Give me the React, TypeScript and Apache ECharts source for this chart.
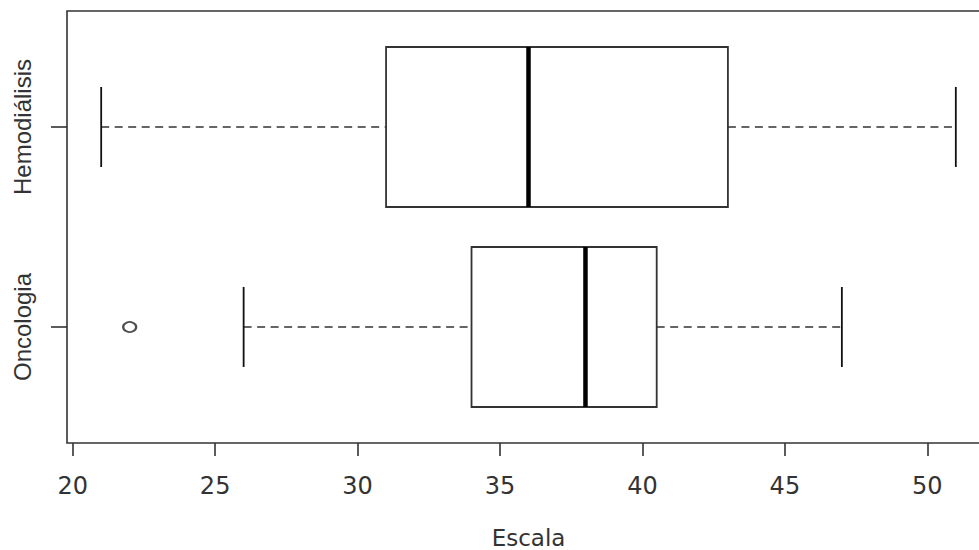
import React, { useEffect, useRef } from "react";
import * as echarts from "echarts";

// ---- data ----
const categories = ["Oncologia", "Hemodiálisis"];
const positions = [1, 2];
const whiskerLow = [26, 21];
const quartile1 = [34, 31];
const medians = [38, 36];
const quartile3 = [40.5, 43];
const whiskerHigh = [47, 51];
const outlierValues = [22];
const outlierPositions = [1];
const xTicks = [20, 25, 30, 35, 40, 45, 50];
const xAxisTitle = "Escala";

// ---- styles ----
const INK = "#333";
const LINE = "#333";
const BOX_HALF = 0.4;
const STAPLE_HALF = 0.2;

export default function App() {
  const ref = useRef<HTMLDivElement>(null);

  useEffect(() => {
    document.body.style.margin = "0";
    document.body.style.overflow = "hidden";
    if (!ref.current) return;
    const chart = echarts.init(ref.current, null, { renderer: "svg" });

    const boxData = positions.map((p, i) => [
      p,
      whiskerLow[i],
      quartile1[i],
      medians[i],
      quartile3[i],
      whiskerHigh[i],
    ]);
    const outlierData = outlierValues.map((v, i) => [v, outlierPositions[i]]);

    const renderItem = (params: any, api: any) => {
      const pos = api.value(0);
      const lo = api.value(1);
      const q1 = api.value(2);
      const med = api.value(3);
      const q3 = api.value(4);
      const hi = api.value(5);
      const c = (x: number, y: number) => api.coord([x, y]);
      const boxTL = c(q1, pos + BOX_HALF);
      const boxBR = c(q3, pos - BOX_HALF);
      const mid = c(q1, pos)[1];
      const dashStyle = { stroke: LINE, lineWidth: 1.6, lineDash: [8, 5.5], fill: null };
      const pLo = c(lo, pos);
      const pHi = c(hi, pos);
      const sTop = c(lo, pos + STAPLE_HALF)[1];
      const sBot = c(lo, pos - STAPLE_HALF)[1];
      const medX = c(med, pos)[0];
      return {
        type: "group",
        children: [
          {
            type: "line",
            shape: { x1: pLo[0], y1: mid, x2: boxTL[0], y2: mid },
            style: dashStyle,
          },
          {
            type: "line",
            shape: { x1: boxBR[0], y1: mid, x2: pHi[0], y2: mid },
            style: dashStyle,
          },
          {
            type: "line",
            shape: { x1: pLo[0], y1: sTop, x2: pLo[0], y2: sBot },
            style: { stroke: "#111", lineWidth: 1.8 },
          },
          {
            type: "line",
            shape: { x1: pHi[0], y1: sTop, x2: pHi[0], y2: sBot },
            style: { stroke: "#111", lineWidth: 1.8 },
          },
          {
            type: "rect",
            shape: {
              x: boxTL[0],
              y: boxTL[1],
              width: boxBR[0] - boxTL[0],
              height: boxBR[1] - boxTL[1],
            },
            style: { stroke: LINE, lineWidth: 1.8, fill: "#fff" },
          },
          {
            type: "line",
            shape: { x1: medX, y1: boxTL[1], x2: medX, y2: boxBR[1] },
            style: { stroke: "#000", lineWidth: 4.5 },
          },
        ],
      };
    };

    chart.setOption({
      animation: false,
      backgroundColor: "#fff",
      grid: {
        left: 67,
        top: 11,
        width: 923,
        height: 432,
        outerBoundsMode: "none",
        containLabel: false,
        show: true,
        borderColor: LINE,
        borderWidth: 1.6,
        backgroundColor: "transparent",
      },
      xAxis: {
        type: "value",
        min: 19.8,
        max: 52.2,
        splitLine: { show: false },
        axisLine: { show: false },
        axisTick: {
          show: true,
          customValues: xTicks,
          length: 13,
          lineStyle: { color: LINE, width: 1.6 },
        },
        axisLabel: {
          customValues: xTicks,
          margin: 31,
          fontSize: 24,
          fontFamily: "DejaVu Sans",
          color: INK,
        },
        name: xAxisTitle,
        nameLocation: "middle",
        nameGap: 83,
        nameTextStyle: { fontSize: 23, fontFamily: "DejaVu Sans", color: INK },
      },
      yAxis: {
        type: "value",
        min: 0.42,
        max: 2.58,
        splitLine: { show: false },
        axisLine: { show: false },
        axisTick: {
          show: true,
          customValues: positions,
          length: 16,
          lineStyle: { color: LINE, width: 1.6 },
        },
        axisLabel: {
          customValues: positions,
          rotate: 90,
          margin: 33,
          fontSize: 24,
          fontFamily: "Liberation Sans",
          color: INK,
          formatter: (v: number) => categories[positions.indexOf(v)] ?? "",
        },
      },
      series: [
        {
          type: "custom",
          renderItem,
          data: boxData,
          encode: { x: [1, 2, 3, 4, 5], y: 0 },
          clip: false,
          z: 2,
        },
        {
          type: "scatter",
          data: outlierData,
          symbol: "emptyCircle",
          symbolSize: [13, 10],
          itemStyle: { color: "#222", borderColor: "#222", borderWidth: 1.6 },
          z: 3,
        },
      ],
    });

    return () => chart.dispose();
  }, []);

  return (
    <div
      ref={ref}
      style={{ position: "fixed", left: 0, top: 0, width: 1000, height: 550 }}
    />
  );
}
